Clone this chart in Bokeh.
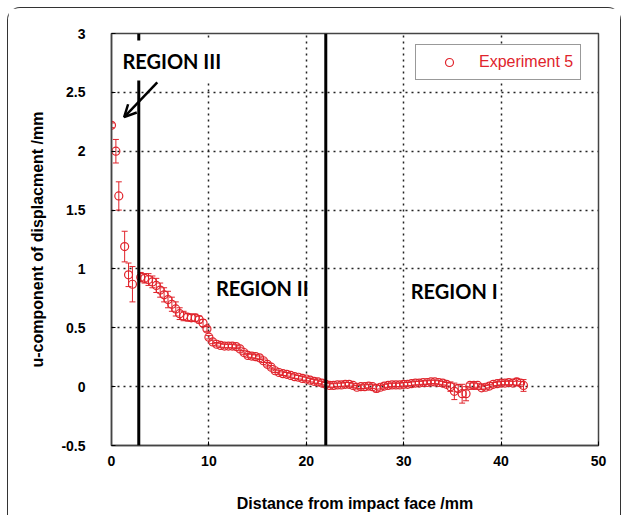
from bokeh.plotting import figure
from bokeh.models import (ColumnDataSource, Whisker, TeeHead, Span, Label, Arrow, OpenHead,
                          FixedTicker, NumeralTickFormatter, Legend, LegendItem)
from bokeh.embed import file_html
from bokeh.resources import INLINE

# ---- data ----
dist_mm = [0.0, 0.45, 0.75, 1.35, 1.75, 2.15,
           3.0, 3.4, 3.8, 4.2, 4.6, 5.0, 5.4, 5.8, 6.2, 6.6, 7.0, 7.4, 7.8, 8.2, 8.6, 9.0, 9.4, 9.8,
           10.0, 10.4, 10.8, 11.2, 11.6, 12.0, 12.4, 12.8, 13.2, 13.6, 14.0, 14.4, 14.8, 15.2, 15.6,
           16.0, 16.4, 16.8, 17.2, 17.6, 18.0, 18.4, 18.8, 19.2, 19.6, 20.0, 20.4, 20.8, 21.2, 21.6, 22.0,
           22.4, 22.8, 23.2, 23.6, 24.0, 24.4, 24.8, 25.2, 25.6, 26.0, 26.4, 26.8, 27.2, 27.6, 28.0,
           28.4, 28.8, 29.2, 29.6, 30.0, 30.4, 30.8, 31.2, 31.6, 32.0, 32.4, 32.8, 33.2, 33.6, 34.0,
           34.4, 34.8, 35.2, 35.6, 36.0, 36.4, 36.8, 37.2, 37.6, 38.0, 38.4, 38.8, 39.2, 39.6, 40.0,
           40.4, 40.8, 41.2, 41.6, 42.0, 42.3]
u_disp = [2.22, 2.00, 1.62, 1.19, 0.95, 0.87,
          0.93, 0.92, 0.91, 0.89, 0.86, 0.82, 0.78, 0.74, 0.70, 0.66, 0.62, 0.60, 0.59, 0.585, 0.585, 0.57, 0.54, 0.49,
          0.42, 0.38, 0.36, 0.35, 0.345, 0.345, 0.345, 0.34, 0.32, 0.29, 0.265, 0.26, 0.255, 0.245, 0.22,
          0.19, 0.165, 0.135, 0.12, 0.11, 0.105, 0.095, 0.085, 0.08, 0.07, 0.065, 0.055, 0.045, 0.04, 0.03, 0.02,
          0.01, 0.01, 0.015, 0.015, 0.02, 0.02, 0.01, -0.005, 0.0, 0.0, 0.005, 0.0, -0.015, -0.005, 0.005,
          0.01, 0.015, 0.015, 0.015, 0.02, 0.02, 0.025, 0.03, 0.03, 0.035, 0.035, 0.04, 0.04, 0.035, 0.03,
          0.02, 0.0, -0.04, -0.015, -0.06, -0.06, 0.01, 0.01, 0.01, -0.01, -0.005, 0.005, 0.02, 0.025, 0.03,
          0.03, 0.035, 0.03, 0.04, 0.03, 0.01]
u_err = [0.02, 0.10, 0.12, 0.13, 0.10, 0.15,
         0.04, 0.04, 0.05, 0.05, 0.06, 0.06, 0.06, 0.07, 0.06, 0.06, 0.05, 0.04, 0.03, 0.03, 0.03, 0.03, 0.03, 0.02,
         0.015, 0.015, 0.015, 0.015, 0.015, 0.015, 0.015, 0.015, 0.015, 0.015, 0.015, 0.015, 0.015, 0.015, 0.015,
         0.015, 0.015, 0.015, 0.015, 0.015, 0.015, 0.015, 0.015, 0.015, 0.015, 0.015, 0.015, 0.015, 0.015, 0.015, 0.015,
         0.015, 0.015, 0.015, 0.015, 0.015, 0.015, 0.015, 0.015, 0.015, 0.015, 0.015, 0.015, 0.03, 0.015, 0.015,
         0.015, 0.015, 0.015, 0.015, 0.015, 0.015, 0.015, 0.015, 0.015, 0.015, 0.015, 0.015, 0.015, 0.015, 0.015,
         0.015, 0.04, 0.07, 0.03, 0.08, 0.06, 0.02, 0.03, 0.015, 0.015, 0.015, 0.015, 0.015, 0.015, 0.015,
         0.015, 0.02, 0.015, 0.03, 0.015, 0.05]
series_name = "Experiment 5"
region_bounds = [2.8, 22.0]
region_names = ["REGION III", "REGION II", "REGION I"]
region_label_x = [0.3, 9.9, 29.9]
region_label_y = [2.77, 0.84, 0.815]
arrow_from = (4.7, 2.585)
arrow_to = (1.3, 2.29)
x_ticks = [0, 10, 20, 30, 40, 50]
y_ticks = [-0.5, 0, 0.5, 1, 1.5, 2, 2.5, 3]

RED = "#e0242c"
FONT = "Liberation Sans"

src = ColumnDataSource(dict(
    x=dist_mm, y=u_disp,
    upper=[a + b for a, b in zip(u_disp, u_err)],
    lower=[a - b for a, b in zip(u_disp, u_err)],
))

p = figure(width=612, height=507, output_backend="svg", toolbar_location=None,
           x_range=(0, 50), y_range=(-0.5, 3),
           min_border_left=103, min_border_right=22, min_border_top=25, min_border_bottom=70)
p.styles = {"margin": "8px 0 0 8px", "box-shadow": "0 0 0 1px #333",
            "border-radius": "12px 12px 0 0"}

# grid
for g in (p.xgrid, p.ygrid):
    g.grid_line_color = "#222"
    g.grid_line_dash = "2 4"
    g.grid_line_width = 1.5
p.xgrid.ticker = FixedTicker(ticks=x_ticks)
p.ygrid.ticker = FixedTicker(ticks=y_ticks)

p.outline_line_color = "#444"
p.outline_line_width = 1.5

# axes
p.xaxis.ticker = FixedTicker(ticks=x_ticks)
p.yaxis.ticker = FixedTicker(ticks=y_ticks)
p.yaxis.formatter = NumeralTickFormatter(format="0.[0]")
for ax in (p.xaxis[0], p.yaxis[0]):
    ax.axis_line_color = "#444"
    ax.axis_line_width = 1.5
    ax.major_tick_in = 4
    ax.major_tick_out = 0
    ax.minor_tick_line_color = None
    ax.major_label_text_font = FONT
    ax.major_label_text_font_style = "bold"
    ax.major_label_text_font_size = "14px"
    ax.major_label_text_color = "black"
    ax.axis_label_text_font = FONT
    ax.axis_label_text_font_style = "bold"
    ax.axis_label_text_font_size = "16px"
    ax.axis_label_text_color = "black"
p.xaxis.axis_label = "Distance from impact face /mm"
p.yaxis.axis_label = "u-component of displacment /mm"
p.xaxis.major_label_standoff = 10
p.xaxis.axis_label_standoff = 26
p.yaxis.major_label_standoff = 26
p.yaxis.axis_label_standoff = 12

# region boundaries
for b in region_bounds:
    p.add_layout(Span(location=b, dimension="height", line_color="black", line_width=3))

# error bars
p.add_layout(Whisker(source=src, base="x", upper="upper", lower="lower",
                     line_color=RED, line_width=1,
                     upper_head=TeeHead(size=6, line_color=RED, line_width=1),
                     lower_head=TeeHead(size=6, line_color=RED, line_width=1)))

r = p.scatter("x", "y", source=src, marker="circle", size=8, line_color=RED,
              line_width=1.2, fill_alpha=0)

# region labels
for name, lx, ly in zip(region_names, region_label_x, region_label_y):
    p.add_layout(Label(x=lx, y=ly, text=name, text_font="Lato", text_font_style="bold",
                       text_font_size="20px", text_baseline="middle", text_align="left",
                       text_color="black",
                       background_fill_color="white" if name == "REGION III" else None,
                       padding=8))

p.add_layout(Arrow(end=OpenHead(size=12, line_width=2.5, line_color="black"),
                   x_start=arrow_from[0], y_start=arrow_from[1],
                   x_end=arrow_to[0], y_end=arrow_to[1],
                   line_width=2.5, line_color="black"))

legend = Legend(items=[LegendItem(label=series_name, renderers=[r])],
                location=(304, 365), padding=7, glyph_width=52, glyph_height=20,
                label_standoff=4,
                border_line_color="#333", border_line_width=1.5, margin=0,
                label_text_font=FONT, label_text_font_size="16px", label_text_color=RED,
                background_fill_color="white", background_fill_alpha=1)
p.add_layout(legend)

open("out.html", "w").write(file_html(p, INLINE))
